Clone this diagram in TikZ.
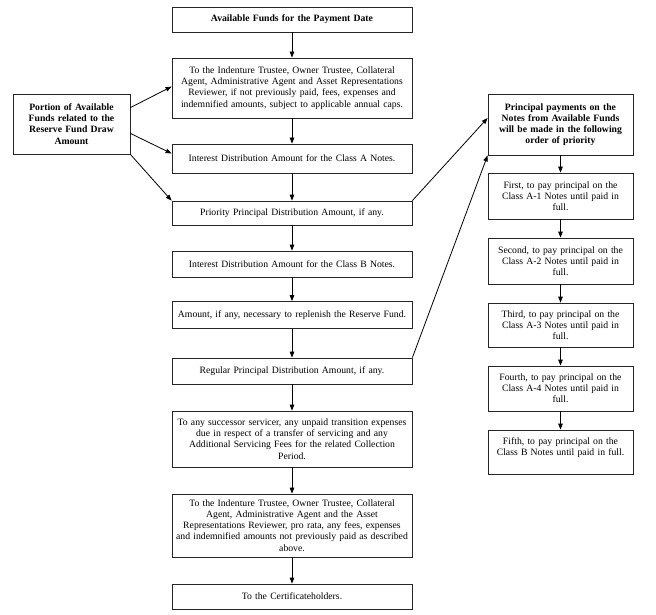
\documentclass[tikz,border=0pt]{standalone}
\usepackage{fontspec}
\setmainfont{Liberation Serif}
\usetikzlibrary{arrows.meta}
\begin{document}
\begin{tikzpicture}[x=1pt,y=-1pt,
  font=\fontsize{9.7}{11.2}\selectfont,
  box/.style={draw=black!85, line width=0.8pt, align=center, inner xsep=2pt, inner ysep=2pt},
  mainbox/.style={box, text width=236pt, minimum width=240pt},
  rbox/.style={box, text width=141pt, minimum width=145pt},
  hbold/.style={font=\fontsize{9.7}{11.2}\selectfont\bfseries},
  arr/.style={-{Triangle[length=6pt,width=4.5pt]}, line width=0.8pt, black}]
\useasboundingbox (0,0) rectangle (656,615);

% main column
\node[mainbox, hbold, minimum height=25pt] (b1) at (292,19.5) {Available Funds for the Payment Date};
\node[mainbox, minimum height=60pt] (b2) at (292,88) {To the Indenture Trustee, Owner Trustee, Collateral\\Agent, Administrative Agent and Asset Representations\\Reviewer, if not previously paid, fees, expenses and\\indemnified amounts, subject to applicable annual caps.};
\node[mainbox, minimum height=29pt] (b3) at (292,158.5) {Interest Distribution Amount for the Class A Notes.};
\node[mainbox, minimum height=24pt] (b4) at (292,213) {Priority Principal Distribution Amount, if any.};
\node[mainbox, minimum height=26pt] (b5) at (292,264) {Interest Distribution Amount for the Class B Notes.};
\node[mainbox, minimum height=27pt] (b6) at (292,315) {Amount, if any, necessary to replenish the Reserve Fund.};
\node[mainbox, minimum height=26pt] (b7) at (292,371) {Regular Principal Distribution Amount, if any.};
\node[mainbox, minimum height=56pt] (b8) at (292,439) {To any successor servicer, any unpaid transition expenses\\due in respect of a transfer of servicing and any\\Additional Servicing Fees for the related Collection\\Period.};
\node[mainbox, minimum height=63pt] (b9) at (292,525.5) {To the Indenture Trustee, Owner Trustee, Collateral\\Agent, Administrative Agent and the Asset\\Representations Reviewer, pro rata, any fees, expenses\\and indemnified amounts not previously paid as described\\above.};
\node[mainbox, minimum height=25pt] (b10) at (292,596.5) {To the Certificateholders.};

% left box
\node[box, hbold, text width=113pt, minimum width=117pt, minimum height=60pt] (L) at (71.5,124) {Portion of Available\\Funds related to the\\Reserve Fund Draw\\Amount};

% right column
\node[rbox, hbold, minimum height=61pt] (H) at (560.5,124.5) {Principal payments on the\\Notes from Available Funds\\will be made in the following\\order of priority};
\node[rbox, minimum height=46pt] (R1) at (560.5,196) {First, to pay principal on the\\Class A-1 Notes until paid in\\full.};
\node[rbox, minimum height=46pt] (R2) at (560.5,261) {Second, to pay principal on the\\Class A-2 Notes until paid in\\full.};
\node[rbox, minimum height=44pt] (R3) at (560.5,325) {Third, to pay principal on the\\Class A-3 Notes until paid in\\full.};
\node[rbox, minimum height=45pt] (R4) at (560.5,388.5) {Fourth, to pay principal on the\\Class A-4 Notes until paid in\\full.};
\node[rbox, minimum height=44pt] (R5) at (560.5,452) {Fifth, to pay principal on the\\Class B Notes until paid in full.\\\mbox{}};

% vertical arrows
\foreach \a/\b in {b1/b2,b2/b3,b3/b4,b4/b5,b5/b6,b6/b7,b7/b8,b8/b9,b9/b10,H/R1,R1/R2,R2/R3,R3/R4,R4/R5}
  \draw[arr] (\a) -- (\b);

% left arrows
\draw[arr] ([yshift=-14pt]L.north east) -- ([yshift=-29pt]b2.north west);
\draw[arr] ([yshift=21pt]L.south east) -- ([yshift=5pt]b3.west);
\draw[arr] (L.south east) -- (b4.north west);

% right arrows
\draw[arr] (b4.north east) -- ([yshift=6.5pt]H.west);
\draw[arr] (b7.north east) -- (H.south west);
\end{tikzpicture}
\end{document}
